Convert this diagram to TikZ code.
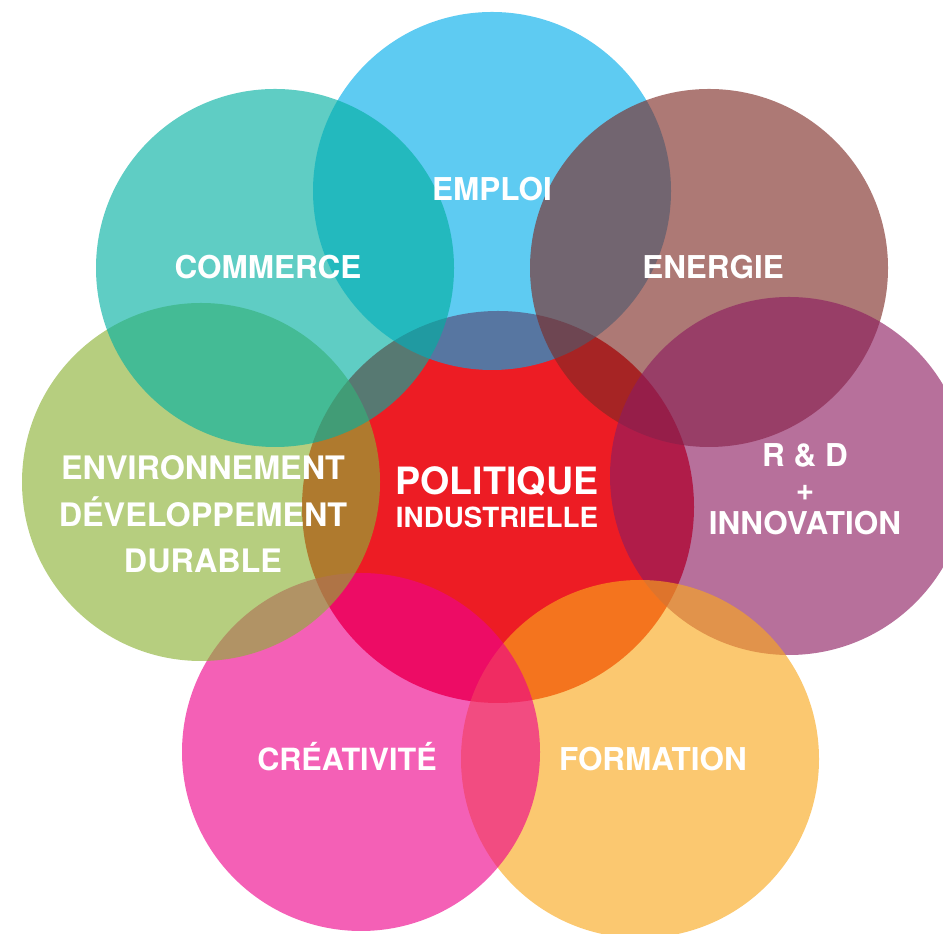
\documentclass[tikz,border=0pt]{standalone}
\usepackage{fontspec}
\setmainfont{TeX Gyre Heros}
\usepackage{tikz}
\usetikzlibrary{calc}

\definecolor{polred}{RGB}{237,28,36}
\definecolor{emploiblue}{RGB}{0,172,234}
\definecolor{energiebrown}{RGB}{125,42,36}
\definecolor{rdpurple}{RGB}{141,28,96}
\definecolor{formorange}{RGB}{249,168,28}
\definecolor{creapink}{RGB}{238,3,139}
\definecolor{envgreen}{RGB}{139,177,53}
\definecolor{comteal}{RGB}{1,176,161}

\begin{document}
\begin{tikzpicture}[x=0.01cm,y=0.01cm,
    lbl/.style={text=white,inner sep=0pt,font=\bfseries\fontsize{8.95}{9.67}\selectfont}]
    \pgfmathsetmacro{\rad}{179}
    \pgfmathsetmacro{\alph}{0.63}
    \useasboundingbox (0,0) rectangle (943,934);
    \clip (0,0) rectangle (943,934);
    \coordinate (P) at (498,427);
    \coordinate (EM) at (492,743);
    \coordinate (EN) at (709,666);
    \coordinate (RD) at (789,458);
    \coordinate (FO) at (640,175);
    \coordinate (CR) at (361,182);
    \coordinate (EV) at (201,452);
    \coordinate (CO) at (275,666);
    % red one stays opaque, the others go over it clockwise
    \fill[color=polred] (P) circle (196);
    \fill[color=emploiblue,fill opacity=\alph] (EM) circle (\rad);
    \fill[color=energiebrown,fill opacity=\alph] (EN) circle (\rad);
    \fill[color=rdpurple,fill opacity=\alph] (RD) circle (\rad);
    \fill[color=formorange,fill opacity=\alph] (FO) circle (\rad);
    \fill[color=creapink,fill opacity=\alph] (CR) circle (\rad);
    \fill[color=envgreen,fill opacity=\alph] (EV) circle (\rad);
    \fill[color=comteal,fill opacity=\alph] (CO) circle (\rad);
    %\draw[thick] (P) circle (196);
    \node[lbl,anchor=base] (emploi) at (492,733) {EMPLOI};
    \node[lbl,anchor=base] (commerce) at (268,655) {COMMERCE};
    \node[lbl,anchor=base] (energie) at (713,655) {ENERGIE};
    \node[lbl,align=center,font=\bfseries\fontsize{9.2}{13.23}\selectfont] (env) at (203,419.5) {ENVIRONNEMENT\\DÉVELOPPEMENT\\DURABLE};
    \node[lbl,align=center] (rd) at (805,445) {R \& D\\+\\INNOVATION};
    \node[lbl,anchor=base,font=\bfseries\fontsize{8.7}{9.67}\selectfont] (crea) at (347,163) {CRÉATIVITÉ};
    \node[lbl,anchor=base] (form) at (653,163) {FORMATION};
    \node[lbl,anchor=base,font=\bfseries\fontsize{10.7}{12}\selectfont] (polit) at (497,439) {POLITIQUE};
    \node[lbl,anchor=base,font=\bfseries\fontsize{7.9}{9.3}\selectfont] (indus) at (497,406) {INDUSTRIELLE};
\end{tikzpicture}
\end{document}
